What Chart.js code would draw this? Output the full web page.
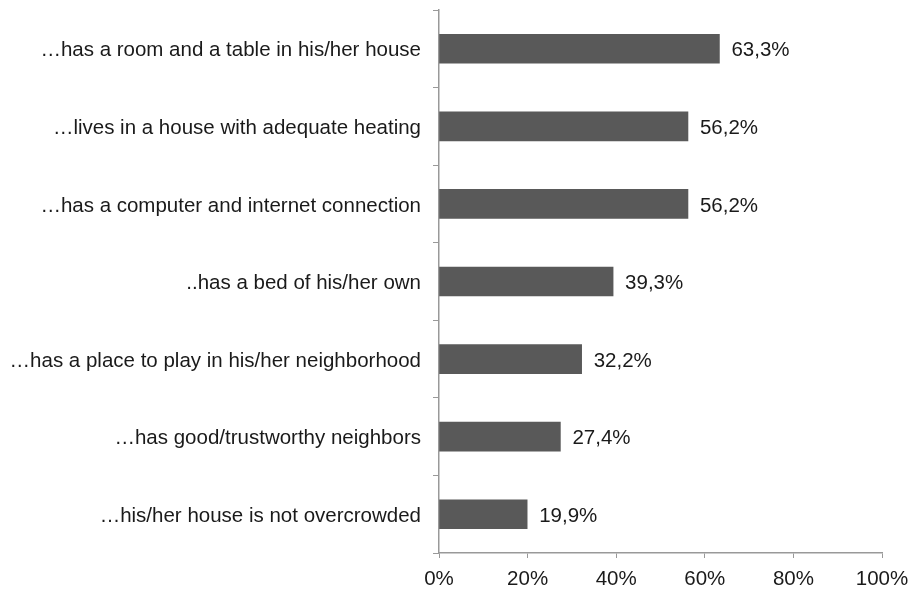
<!DOCTYPE html>
<html>
<head>
<meta charset="utf-8">
<script src="https://cdn.jsdelivr.net/npm/chart.js@4"></script>
<style>
  html, body { margin: 0; padding: 0; background: #fff; }
  #wrap { width: 913px; height: 590px; }
</style>
</head>
<body>
<div id="wrap"><canvas id="housing"></canvas></div>
<script>
const categories = [
  '\u2026has a room and a table in his/her house',
  '\u2026lives in a house with adequate heating',
  '\u2026has a computer and internet connection',
  '..has a bed of his/her own',
  '\u2026has a place to play in his/her neighborhood',
  '\u2026has good/trustworthy neighbors',
  '\u2026his/her house is not overcrowded'
];
const shares = [63.3, 56.2, 56.2, 39.3, 32.2, 27.4, 19.9];
const xTicks = [0, 20, 40, 60, 80, 100];

const axisGray = '#999999';
const fontBase = { family: '"Liberation Sans", Arial, sans-serif', size: 20.5 };

// writes "63,3%" just past the end of each bar
const valueLabels = {
  id: 'valueLabels',
  afterDatasetsDraw(chart) {
    const c = chart.ctx;
    const meta = chart.getDatasetMeta(0);
    c.save();
    c.font = '20.5px "Liberation Sans", Arial, sans-serif';
    c.fillStyle = '#1a1a1a';
    c.textAlign = 'left';
    c.textBaseline = 'middle';
    meta.data.forEach(function(bar, i) {
      const txt = shares[i].toFixed(1).replace('.', ',') + '%';
      c.fillText(txt, bar.x + 12, bar.y + 2);
    });
    c.restore();
  }
};

const ctx = document.getElementById('housing').getContext('2d');
const chart = new Chart(ctx, {
  type: 'bar',
  data: {
    labels: categories,
    datasets: [{
      data: shares,
      backgroundColor: '#595959',
      borderWidth: 0,
      barThickness: 29
    }]
  },
  plugins: [valueLabels],
  options: {
    indexAxis: 'y',
    responsive: true,
    maintainAspectRatio: false,
    animation: false,
    layout: { padding: { top: 10, right: 31, left: 0, bottom: 0 } },
    plugins: {
      legend: { display: false },
      tooltip: { enabled: false }
    },
    scales: {
      x: {
        min: 0,
        max: 100,
        afterBuildTicks(scale) {
          scale.ticks = xTicks.map(v => ({ value: v }));
        },
        afterFit(scale) {
          scale.height = 37;
          scale.paddingLeft = 0;
          scale.paddingRight = 0;
        },
        border: { color: axisGray, width: 1.5 },
        grid: {
          drawOnChartArea: false,
          drawTicks: true,
          tickLength: 5,
          color: axisGray
        },
        ticks: {
          color: '#1a1a1a',
          font: fontBase,
          padding: 9,
          maxRotation: 0,
          callback: v => v + '%'
        }
      },
      y: {
        afterFit(scale) {
          scale.width = 439;
          scale.paddingTop = 0;
          scale.paddingBottom = 0;
        },
        border: { color: axisGray, width: 1.5 },
        grid: {
          offset: true,
          drawOnChartArea: false,
          drawTicks: true,
          tickLength: 6,
          color: axisGray
        },
        ticks: {
          color: '#1a1a1a',
          font: fontBase,
          padding: 12,
          labelOffset: 2
        }
      }
    }
  }
});
</script>
</body>
</html>
